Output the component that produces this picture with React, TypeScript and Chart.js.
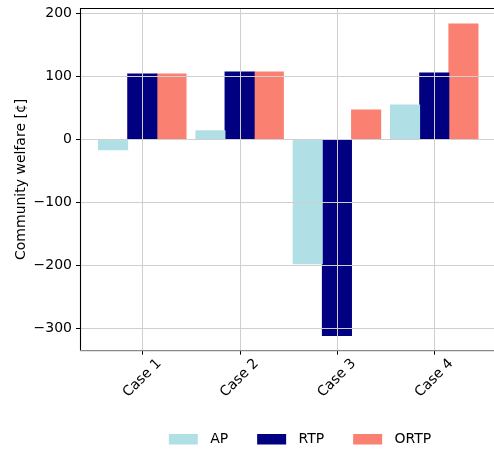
import React, { useEffect, useRef } from "react";
import { Chart, registerables } from "chart.js";

Chart.register(...registerables);

// Community welfare per case and pricing scheme (¢)
const cases = ["Case 1", "Case 2", "Case 3", "Case 4"];
const apValues = [-16.5, 13.7, -197.5, 54.4];
const rtpValues = [103.7, 106.8, -311.7, 105.2];
const ortpValues = [103.7, 106.8, 46.5, 183];
const yTickValues = [-300, -200, -100, 0, 100, 200];
const seriesNames = ["AP", "RTP", "ORTP"];
const seriesColors = ["#b0e0e6", "#000080", "#fa8072"];

const FONT = "14px 'DejaVu Sans'";

const overlayPlugin = {
  id: "overlay",
  afterDatasetsDraw(chart: any) {
    const { ctx, chartArea: a, scales } = chart;
    const xs = scales.x;
    const ys = scales.y;
    ctx.save();

    // grid lines, drawn above the bars
    ctx.strokeStyle = "#cfcfcf";
    ctx.lineWidth = 1;
    for (const t of ys.ticks) {
      const y = Math.round(ys.getPixelForValue(t.value)) + 0.5;
      ctx.beginPath();
      ctx.moveTo(a.left, y);
      ctx.lineTo(a.right, y);
      ctx.stroke();
    }
    for (const t of xs.ticks) {
      const x = Math.round(xs.getPixelForValue(t.value)) + 0.5;
      ctx.beginPath();
      ctx.moveTo(x, a.top);
      ctx.lineTo(x, a.bottom);
      ctx.stroke();
    }

    // x tick marks
    ctx.strokeStyle = "#000";
    for (const t of xs.ticks) {
      const x = Math.round(xs.getPixelForValue(t.value)) + 0.5;
      ctx.beginPath();
      ctx.moveTo(x, a.bottom);
      ctx.lineTo(x, a.bottom + 4);
      ctx.stroke();
    }

    // frame
    ctx.strokeStyle = "#000";
    ctx.lineWidth = 1.1;
    ctx.beginPath();
    ctx.moveTo(a.left + 0.5, a.bottom);
    ctx.lineTo(a.left + 0.5, a.top + 0.5);
    ctx.lineTo(a.right, a.top + 0.5);
    ctx.stroke();
    ctx.strokeStyle = "#8a8a8a";
    ctx.lineWidth = 1.3;
    ctx.beginPath();
    ctx.moveTo(a.left, a.bottom);
    ctx.lineTo(a.right, a.bottom);
    ctx.stroke();

    // rotated category labels
    ctx.fillStyle = "#000";
    ctx.font = FONT;
    ctx.textAlign = "center";
    ctx.textBaseline = "middle";
    xs.ticks.forEach((t: any) => {
      const x = xs.getPixelForValue(t.value);
      const label = cases[Math.round(t.value) - 1];
      ctx.save();
      ctx.translate(x, a.bottom + 27.5);
      ctx.rotate(-Math.PI / 4);
      ctx.fillText(label, 0, 0);
      ctx.restore();
    });

    // legend
    const boxW = 29;
    const boxH = 10.5;
    const textGap = 12.3;
    const itemGap = 29;
    const widths = seriesNames.map((n) => ctx.measureText(n).width);
    const total =
      widths.reduce((s, w) => s + boxW + textGap + w, 0) +
      itemGap * (seriesNames.length - 1);
    let lx = 300 - total / 2;
    const ly = 434;
    ctx.textAlign = "left";
    seriesNames.forEach((n, i) => {
      ctx.fillStyle = seriesColors[i];
      ctx.fillRect(lx, ly, boxW, boxH);
      ctx.fillStyle = "#000";
      ctx.fillText(n, lx + boxW + textGap, ly + boxH / 2 + 0.5);
      lx += boxW + textGap + widths[i] + itemGap;
    });

    ctx.restore();
  },
};

export default function App() {
  const canvasRef = useRef<HTMLCanvasElement | null>(null);

  useEffect(() => {
    document.body.style.margin = "0";
    const canvas = canvasRef.current;
    if (!canvas) return;

    const makeSeries = (vals: number[]) =>
      vals.map((v, i) => ({ x: i + 1, y: v }));

    const barStyle = { borderWidth: 0, inflateAmount: 0.45 };

    const chart = new Chart(canvas, {
      type: "bar",
      data: {
        datasets: [
          { label: seriesNames[0], data: makeSeries(apValues), backgroundColor: seriesColors[0], ...barStyle },
          { label: seriesNames[1], data: makeSeries(rtpValues), backgroundColor: seriesColors[1], ...barStyle },
          { label: seriesNames[2], data: makeSeries(ortpValues), backgroundColor: seriesColors[2], ...barStyle },
        ],
      },
      options: {
        responsive: false,
        animation: false,
        layout: { padding: { top: 8, left: 0, right: 0, bottom: 0 } },
        datasets: { bar: { categoryPercentage: 0.9, barPercentage: 1.0 } },
        plugins: {
          legend: { display: false },
          tooltip: { enabled: false },
        },
        scales: {
          x: {
            type: "linear",
            min: 0.36,
            max: 4.614,
            offset: false,
            afterBuildTicks: (s: any) => {
              s.ticks = cases.map((_, i) => ({ value: i + 1 }));
            },
            afterFit: (s: any) => {
              s.height = 99.3;
              s.paddingLeft = 0;
              s.paddingRight = 0;
            },
            ticks: { display: false },
            grid: { display: false, offset: false },
            border: { display: false },
          },
          y: {
            type: "linear",
            min: -335.6,
            max: 208.4,
            afterBuildTicks: (s: any) => {
              s.ticks = yTickValues.map((v) => ({ value: v }));
            },
            afterFit: (s: any) => {
              s.width = 80;
              s.paddingTop = 0;
              s.paddingBottom = 0;
            },
            ticks: {
              color: "#000",
              font: { family: "'DejaVu Sans'", size: 14 },
              padding: 4,
              callback: (v: any) => String(v).replace("-", "\u2212"),
            },
            grid: {
              display: true,
              drawOnChartArea: false,
              drawTicks: true,
              tickLength: 4,
              tickColor: "#000",
            },
            border: { display: false },
            title: {
              display: true,
              text: "Community welfare [¢]",
              color: "#000",
              font: { family: "'DejaVu Sans'", size: 14 },
              padding: { top: 13.3, bottom: 0 },
            },
          },
        },
      },
      plugins: [overlayPlugin],
    });

    return () => chart.destroy();
  }, []);

  return (
    <div style={{ width: 494, height: 450, overflow: "hidden" }}>
      <canvas ref={canvasRef} width={494} height={450} />
    </div>
  );
}
